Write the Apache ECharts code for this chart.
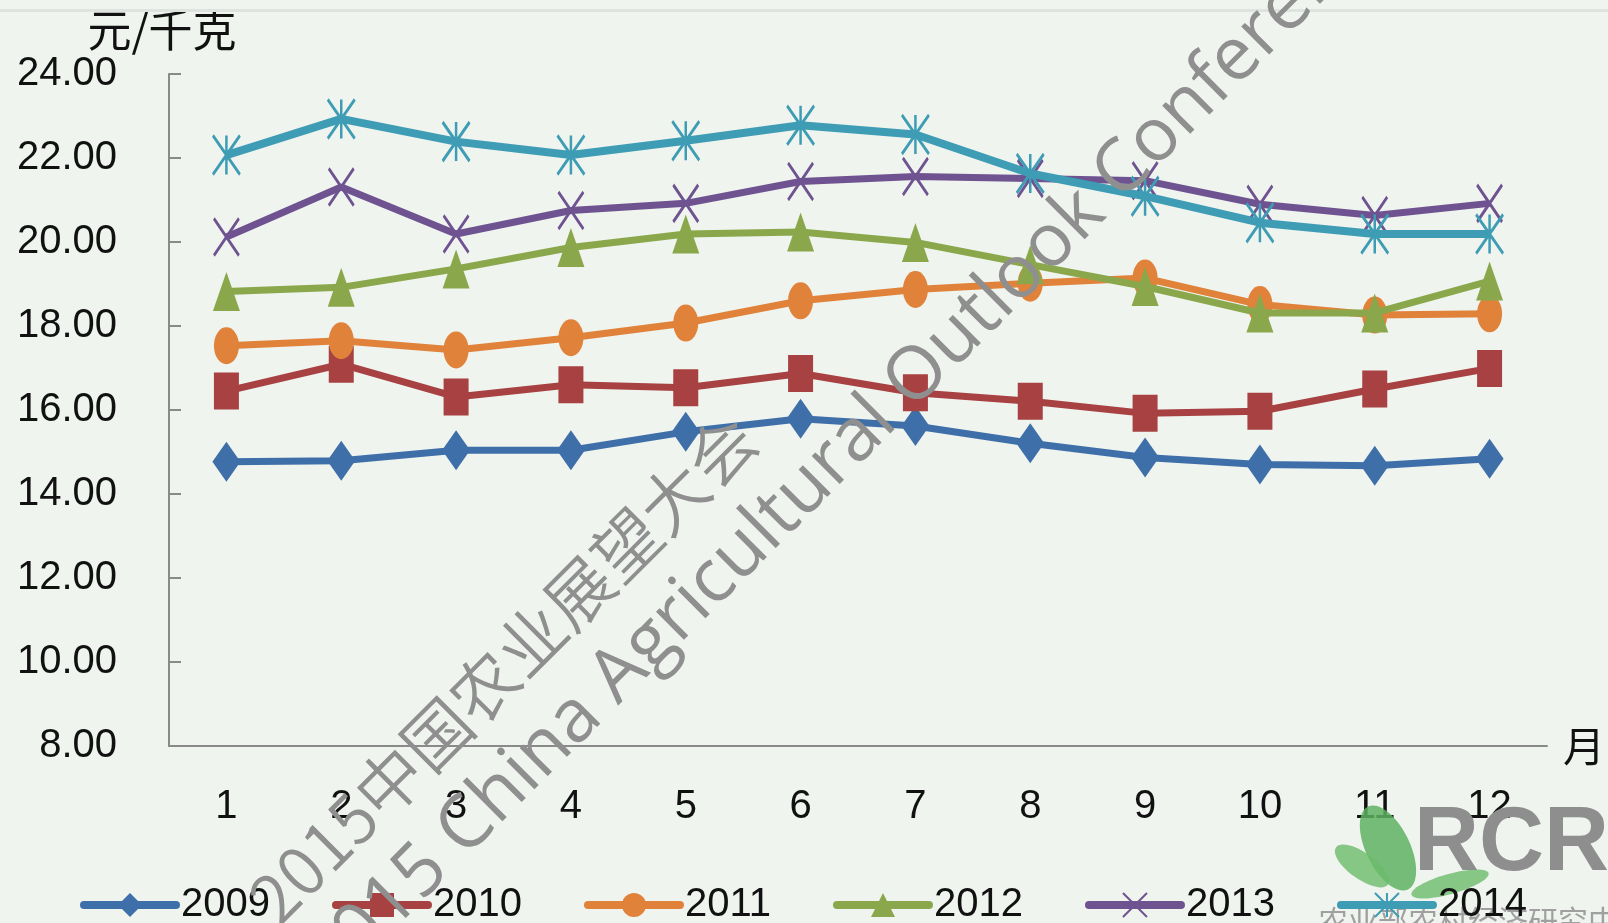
<!DOCTYPE html>
<html>
<head>
<meta charset="utf-8">
<script src="https://cdn.jsdelivr.net/npm/echarts@6/dist/echarts.min.js"></script>
<style>
  html, body { margin: 0; padding: 0; background: #eff4ef; }
  #chart { width: 1608px; height: 923px; }
</style>
</head>
<body>
<div id="chart"></div>
<script>
// months on the x axis
const months = ['1', '2', '3', '4', '5', '6', '7', '8', '9', '10', '11', '12']
const years = ['2009', '2010', '2011', '2012', '2013', '2014']

// 元/千克
const p2009 = [14.77, 14.79, 15.04, 15.04, 15.48, 15.79, 15.62, 15.21, 14.87, 14.70, 14.67, 14.84]
const p2010 = [16.45, 17.09, 16.31, 16.60, 16.53, 16.87, 16.41, 16.21, 15.92, 15.97, 16.50, 16.99]
const p2011 = [17.53, 17.65, 17.43, 17.72, 18.07, 18.60, 18.87, 19.02, 19.14, 18.51, 18.26, 18.29]
const p2012 = [18.82, 18.92, 19.36, 19.87, 20.19, 20.24, 19.99, 19.46, 18.94, 18.31, 18.31, 19.07]
const p2013 = [20.12, 21.31, 20.19, 20.75, 20.92, 21.44, 21.56, 21.51, 21.46, 20.90, 20.63, 20.92]
const p2014 = [22.07, 22.93, 22.39, 22.07, 22.41, 22.78, 22.56, 21.63, 21.09, 20.46, 20.19, 20.19]

const colors = ['#3f6fa9', '#a84142', '#e0823a', '#8aa84b', '#6f5391', '#3e9cb4']
const symbols = [
  'diamond',
  'rect',
  'circle',
  'triangle',
  'path://M0,0L10,10M10,0L0,10',
  'path://M0,0L10,10M10,0L0,10M5,0L5,10'
]
const sizes = [[28, 40], [25, 37], [25, 37], [27, 39], [25, 37], [27, 39]]
const widths = [7, 7, 7, 7, 7, 8]
const allData = [p2009, p2010, p2011, p2012, p2013, p2014]

const font = '"Liberation Sans", Arial, "Noto Sans CJK SC", sans-serif'
const cjk = '"Noto Sans CJK SC", "Liberation Sans", sans-serif'
const markGray = '#8f8f8f'

const chart = echarts.init(document.getElementById('chart'))

const series = years.map((name, i) => {
  const stroke = i >= 4
  return {
    name: name,
    type: 'line',
    data: allData[i],
    symbol: symbols[i],
    symbolSize: sizes[i],
    showAllSymbol: true,
    z: 2 + i,
    lineStyle: { color: colors[i], width: widths[i] },
    itemStyle: {
      color: colors[i],
      borderColor: colors[i],
      borderWidth: stroke ? 3 : 0
    },
    emphasis: { disabled: true }
  }
})

chart.setOption({
  backgroundColor: '#eff4ef',
  animation: false,
  textStyle: { fontFamily: font },
  grid: {
    left: 169,
    right: 57,
    top: 74,
    bottom: 177
  },
  legend: {
    data: years,
    left: 80,
    top: 885,
    padding: 0,
    itemWidth: 92,
    itemHeight: 30,
    itemGap: 62,
    lineStyle: { width: 8, cap: 'round' },
    textStyle: { fontSize: 40, color: '#111', fontFamily: font }
  },
  xAxis: {
    type: 'category',
    data: months,
    boundaryGap: true,
    name: '月',
    nameLocation: 'end',
    nameGap: 16,
    nameTextStyle: { fontSize: 42, color: '#111', fontFamily: cjk, verticalAlign: 'middle' },
    axisLine: { lineStyle: { color: '#8a8a8a', width: 2 } },
    axisTick: { inside: true, length: 14, lineStyle: { color: '#8a8a8a', width: 2 } },
    axisLabel: { fontSize: 40, color: '#111', margin: 41, fontFamily: font },
    splitLine: { show: false }
  },
  yAxis: {
    type: 'value',
    min: 8,
    max: 24,
    interval: 2,
    name: '元/千克',
    nameLocation: 'end',
    nameGap: 22,
    nameTextStyle: { fontSize: 44, color: '#111', fontFamily: cjk, align: 'center', padding: [0, 14, 0, 0] },
    axisLine: { show: true, lineStyle: { color: '#8a8a8a', width: 2 } },
    axisTick: { show: true, inside: true, length: 12, lineStyle: { color: '#8a8a8a', width: 2 } },
    axisLabel: {
      fontSize: 40,
      color: '#111',
      margin: 52,
      fontFamily: font,
      formatter: v => v.toFixed(2)
    },
    splitLine: { show: false }
  },
  graphic: [
    // faint border line at the top
    {
      type: 'rect',
      left: 0,
      top: 9,
      shape: { width: 1608, height: 3 },
      style: { fill: '#dfe3df' },
      z: 1
    },
    // logo leaves
    {
      type: 'ellipse',
      x: 1388, y: 848,
      rotation: 0.45,
      shape: { cx: 0, cy: 0, rx: 22, ry: 46 },
      style: { fill: '#5fb163', opacity: 0.85 },
      z: 1
    },
    {
      type: 'ellipse',
      x: 1362, y: 866,
      rotation: 0.95,
      shape: { cx: 0, cy: 0, rx: 13, ry: 32 },
      style: { fill: '#6cbc6c', opacity: 0.8 },
      z: 1
    },
    {
      type: 'ellipse',
      x: 1450, y: 884,
      rotation: -1.3,
      shape: { cx: 0, cy: 0, rx: 10, ry: 40 },
      style: { fill: '#6cbc6c', opacity: 0.8 },
      z: 1
    },
    {
      type: 'text',
      left: 1414,
      top: 800,
      style: {
        text: 'RCR',
        fontSize: 90,
        fontWeight: 'bold',
        fontFamily: font,
        fill: '#8e8e8e'
      },
      z: 1
    },
    {
      type: 'text',
      left: 1318,
      top: 906,
      style: {
        text: '农业部农村经济研究中心',
        fontSize: 30,
        fontFamily: cjk,
        fill: '#a0a0a0'
      },
      z: 1
    },
    // watermark
    {
      type: 'text',
      x: 503,
      y: 668,
      rotation: Math.PI / 4,
      style: {
        text: '2015中国农业展望大会',
        fontSize: 67,
        fontWeight: 350,
        fontFamily: cjk,
        fill: markGray,
        align: 'center',
        verticalAlign: 'middle'
      },
      z: 100
    },
    {
      type: 'text',
      x: 852,
      y: 442,
      rotation: Math.PI / 4,
      style: {
        text: '2015 China Agricultural Outlook Conference',
        fontSize: 74,
        fontWeight: 'normal',
        fontFamily: '"Open Sans", "DejaVu Sans", sans-serif',
        fill: markGray,
        align: 'center',
        verticalAlign: 'middle'
      },
      z: 100
    }
  ],
  series: series
})
</script>
</body>
</html>
